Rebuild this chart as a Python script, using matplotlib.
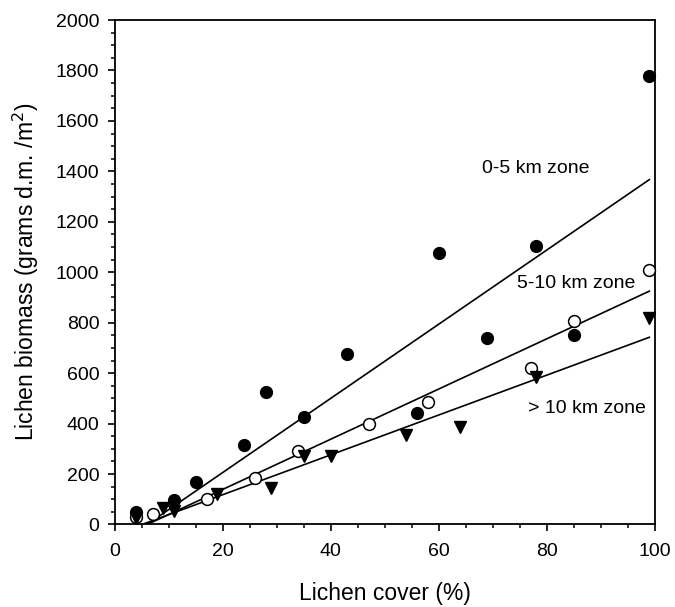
import matplotlib
matplotlib.use("Agg")
import matplotlib.pyplot as plt
import numpy as np
from matplotlib.ticker import MultipleLocator

plt.rcParams['font.family'] = ['Liberation Sans', 'DejaVu Sans']

# 0-5 km zone (filled circles)
x_a = [4, 11, 15, 24, 28, 35, 43, 56, 60, 69, 78, 85, 99]
y_a = [50, 95, 170, 315, 525, 425, 675, 440, 1075, 740, 1105, 750, 1780]
# 5-10 km zone (open circles)
x_b = [4, 7, 17, 26, 34, 47, 58, 77, 85, 99]
y_b = [30, 40, 100, 185, 290, 400, 485, 620, 805, 1010]
# > 10 km zone (triangles)
x_c = [4, 9, 11, 19, 29, 35, 40, 54, 64, 78, 99]
y_c = [25, 65, 55, 120, 145, 270, 270, 355, 385, 585, 820]

# regression lines: slope, intercept
slopes = [14.7, 9.95, 7.9]
intercepts = [-88, -60, -40]
line_x = [4, 99]

labels = ["0-5 km zone", "5-10 km zone", "> 10 km zone"]
label_pos = [(68.0, 1410), (74.5, 955), (76.5, 460)]

fig = plt.figure(figsize=(6.75, 6.07), dpi=100)
ax = fig.add_axes([0.170, 0.136, 0.800, 0.831])

lx = np.array(line_x, dtype=float)
for s, b in zip(slopes, intercepts):
    ax.plot(lx, s * lx + b, color='black', lw=1.2, zorder=2)

ax.plot(x_a, y_a, 'o', color='black', ms=8.5, zorder=3, clip_on=False)
ax.plot(x_b, y_b, 'o', mfc='white', mec='black', mew=1.1, ms=8.5, zorder=3, clip_on=False)
ax.plot(x_c, y_c, 'v', color='black', ms=9, zorder=3, clip_on=False)

for t, (px, py) in zip(labels, label_pos):
    ax.text(px, py, t, fontsize=14, ha='left', va='center')

ax.set_xlim(0, 100)
ax.set_ylim(0, 2000)
ax.xaxis.set_major_locator(MultipleLocator(20))
ax.xaxis.set_minor_locator(MultipleLocator(5))
ax.yaxis.set_major_locator(MultipleLocator(200))
ax.yaxis.set_minor_locator(MultipleLocator(50))
ax.tick_params(which='major', direction='out', length=5, width=1.2, labelsize=14)
ax.tick_params(axis='x', which='major', pad=8)
ax.tick_params(axis='y', which='major', pad=6)
ax.tick_params(which='minor', direction='out', length=3, width=1.1)
for sp in ax.spines.values():
    sp.set_linewidth(1.3)

ax.set_xlabel("Lichen cover (%)", fontsize=16.5, labelpad=16)
ax.set_ylabel("Lichen biomass (grams d.m. /m$^2$)", fontsize=16.5, labelpad=11)

fig.savefig("out.png", dpi=100)
